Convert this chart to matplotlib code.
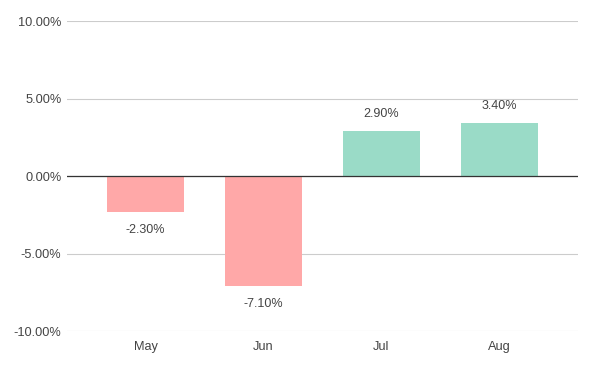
import matplotlib.pyplot as plt
from matplotlib.ticker import FuncFormatter

plt.rcParams['font.family'] = ['Liberation Sans', 'DejaVu Sans']

months = ["May", "Jun", "Jul", "Aug"]
changes = [-2.30, -7.10, 2.90, 3.40]
y_ticks = [-10, -5, 0, 5, 10]

red = "#ffa8a8"
green = "#9adbc7"
text_col = "#444444"

fig = plt.figure(figsize=(5.94, 3.65), dpi=100)
ax = fig.add_axes([67 / 594, 1 - 331 / 365, (578 - 67) / 594, (331 - 21) / 365])

x = list(range(len(months)))
colors = [red if v < 0 else green for v in changes]
ax.bar(x, changes, width=0.655, color=colors, zorder=2)

# value labels above / below each bar
for xi, v in zip(x, changes):
    off = 17 if v >= 0 else -18
    ax.annotate(f"{v:.2f}%", (xi, v), xytext=(0, off), textcoords="offset pixels",
                ha="center", va="center", fontsize=9, color=text_col)

ax.set_xlim(-0.667, len(months) - 1 + 0.667)
ax.set_ylim(-10, 10)
ax.set_yticks(y_ticks)
ax.yaxis.set_major_formatter(FuncFormatter(lambda v, p: f"{v:.2f}%"))
ax.grid(axis="y", color="#cccccc", linewidth=0.8, zorder=0)
ax.axhline(0, color="#333333", linewidth=0.9, zorder=3)

ax.set_xticks(x)
ax.set_xticklabels(months)
ax.tick_params(axis="both", length=0, labelsize=9.2, labelcolor=text_col)
ax.tick_params(axis="y", pad=4)
ax.tick_params(axis="x", pad=7.5)
for s in ax.spines.values():
    s.set_visible(False)

fig.savefig("out.png", dpi=100)
